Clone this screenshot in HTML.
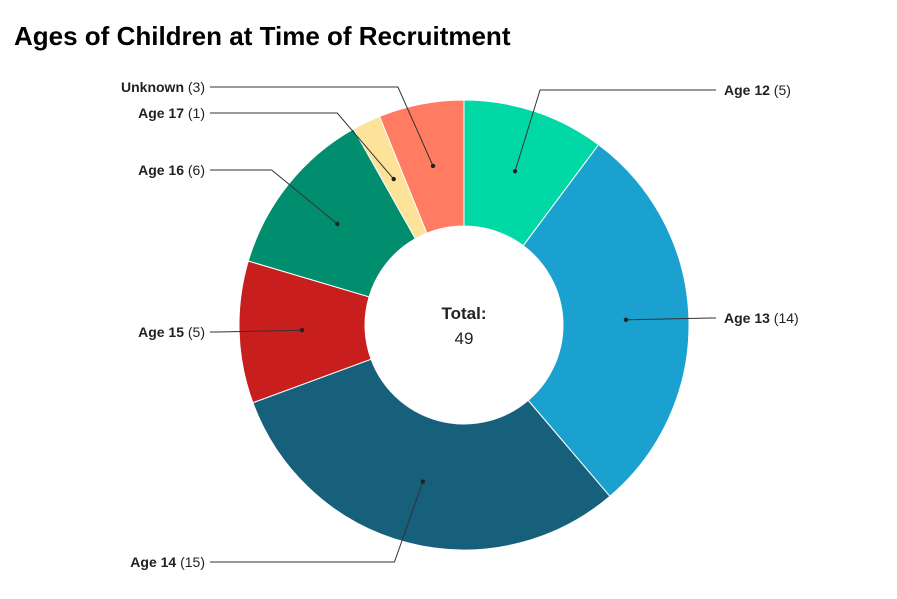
<!DOCTYPE html>
<html><head><meta charset="utf-8"><style>
body{margin:0;background:#fff;width:897px;height:594px;overflow:hidden;font-family:"Liberation Sans",sans-serif}
</style></head><body>
<svg width="897" height="594">
<text x="14" y="45" font-size="26" font-weight="bold" fill="#000">Ages of Children at Time of Recruitment</text>
<g id="slices"></g><g id="leaders"></g>
<text x="464" y="319" text-anchor="middle" font-size="17" font-weight="bold" fill="#222">Total:</text>
<text x="464" y="344" text-anchor="middle" font-size="17" fill="#222">49</text>
</svg>
<script>
const categories=["Age 12","Age 13","Age 14","Age 15","Age 16","Age 17","Unknown"];
const values=[5,14,15,5,6,1,3];
const colors=["#00d9a6","#1ba1cf","#17607c","#c91e1e","#008e6e","#fde29a","#ff7b62"];
const labelY=[90,318,562,332,170,113,87];
const cx=464,cy=325,R=225,r=99,NS="http://www.w3.org/2000/svg";
const total=values.reduce((a,b)=>a+b,0);
const sg=document.getElementById('slices'),lg=document.getElementById('leaders');
function pt(a,rad){return [cx+rad*Math.sin(a),cy-rad*Math.cos(a)];}
let acc=0;
values.forEach((v,i)=>{
  const a0=acc/total*2*Math.PI;acc+=v;const a1=acc/total*2*Math.PI;
  const big=a1-a0>Math.PI?1:0;
  const p0=pt(a0,R),p1=pt(a1,R),q1=pt(a1,r),q0=pt(a0,r);
  const p=document.createElementNS(NS,'path');
  p.setAttribute('d',`M${p0}A${R},${R} 0 ${big} 1 ${p1}L${q1}A${r},${r} 0 ${big} 0 ${q0}Z`);
  p.setAttribute('fill',colors[i]);p.setAttribute('stroke','#fff');p.setAttribute('stroke-width','1');
  
  
  sg.appendChild(p);
  const am=(a0+a1)/2,d=pt(am,162);
  const right=Math.sin(am)>=0;
  const ly=labelY[i];const dy=ly-cy;
  const ex=cx+(right?1:-1)*Math.sqrt(Math.max(0,247*247-dy*dy));
  const endx=right?716:210;
  const l=document.createElementNS(NS,'polyline');
  l.setAttribute('points',`${d} ${ex},${ly} ${endx},${ly}`);
  l.setAttribute('fill','none');l.setAttribute('stroke','#333');l.setAttribute('stroke-width','1');
  
  
  lg.appendChild(l);
  const c=document.createElementNS(NS,'circle');
  c.setAttribute('cx',d[0]);c.setAttribute('cy',d[1]);c.setAttribute('r','2.2');c.setAttribute('fill','#222');
  
  
  lg.appendChild(c);
  const t=document.createElementNS(NS,'text');
  t.setAttribute('x',right?724:205);t.setAttribute('y',ly+5);
  t.setAttribute('text-anchor',right?'start':'end');t.setAttribute('font-size','14');t.setAttribute('fill','#222');
  
  
  t.innerHTML=`<tspan font-weight="bold">${categories[i]}</tspan> (${v})`;
  lg.appendChild(t);
});
</script>
</body></html>
